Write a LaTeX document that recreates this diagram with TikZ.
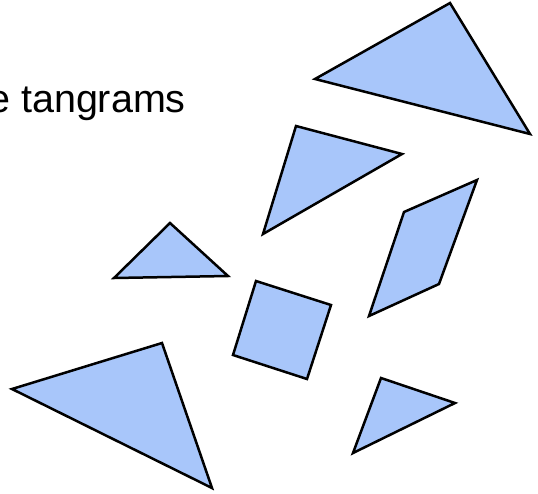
\documentclass[tikz,border=0pt]{standalone}
\usepackage{fontspec}
\setmainfont{Liberation Sans}
\definecolor{tanfill}{RGB}{168,198,250}
\tikzset{piece/.style={fill=tanfill,draw=black,line width=2.5pt,line join=miter}}
\begin{document}
\begin{tikzpicture}[x=1pt,y=-1pt]
\useasboundingbox (0,0) rectangle (538,493);
\clip (0,0) rectangle (538,493);
\node[anchor=base east,inner sep=0pt,font=\fontsize{39.5pt}{40pt}\selectfont] (title) at (186,112) {e tangrams};
% large triangle top right
\draw[piece] (450,3) -- (315,79) -- (530,134) -- cycle;
% medium triangle
\draw[piece] (296,126) -- (402,154) -- (263,234) -- cycle;
% parallelogram
\draw[piece] (477,180) -- (404,212) -- (369,316) -- (439,284) -- cycle;
% small triangle left
\draw[piece] (170,223) -- (114,278) -- (228,276) -- cycle;
% square
\draw[piece] (256,281) -- (331,305) -- (307,379) -- (233,355) -- cycle;
% large triangle bottom left
\draw[piece] (12,389) -- (162,343) -- (212,488) -- cycle;
% small triangle bottom right
\draw[piece] (381,378) -- (455,403) -- (353,453) -- cycle;
\end{tikzpicture}
\end{document}
